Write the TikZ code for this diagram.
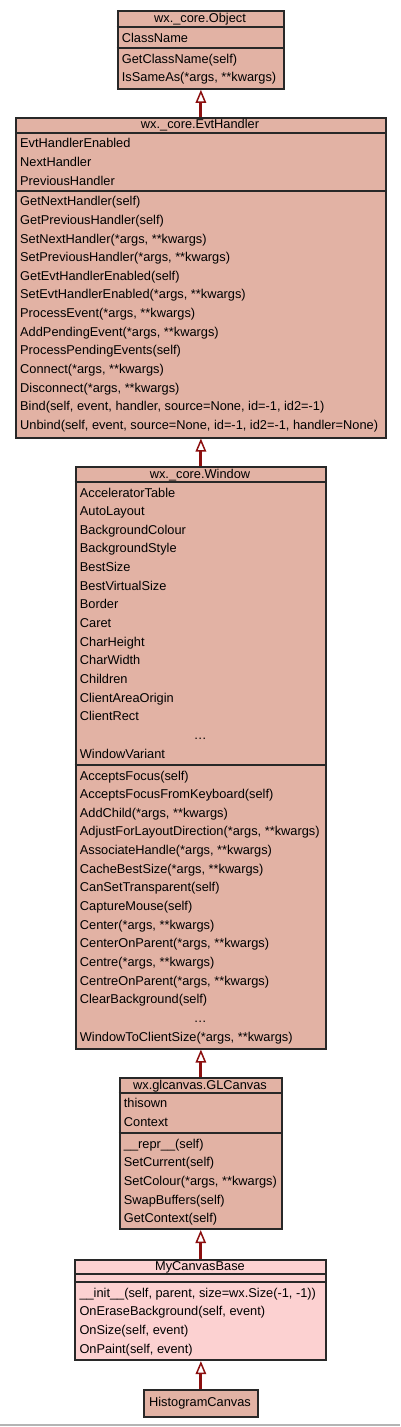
\documentclass[tikz,border=0pt]{standalone}
\usepackage{fontspec}
\setmainfont{Liberation Sans}
\usetikzlibrary{arrows.meta}
\definecolor{salmonfill}{RGB}{226,178,164}
\definecolor{pinkfill}{RGB}{252,209,209}
\definecolor{boxline}{RGB}{40,40,40}
\definecolor{arrowred}{RGB}{140,16,16}
\definecolor{framegray}{RGB}{180,180,180}
\newcommand\umlfont{\fontsize{12.8bp}{15bp}\selectfont}
\newcommand\mrows[4]{%
  \foreach \rowtext [count=\i] in {#4} {%
    \node[txt] (#1\i) at ({#2+5},{#3+1.5+18.65*(\i-0.5)+4.2}) {\rowtext};
  }%
}
\tikzset{
  classbox/.style={draw=boxline, line width=1.8bp, fill=salmonfill, anchor=north west, inner sep=0},
  sepline/.style={draw=boxline, line width=1.8bp},
  txt/.style={anchor=base west, inner sep=0, font=\umlfont, text=black},
  ttl/.style={anchor=base, inner sep=0, font=\umlfont, text=black},
  inh/.style={draw=arrowred, line width=3bp,
    -{Triangle[length=13bp, width=10.5bp, fill=white, line width=1.5bp]}},
}
\begin{document}
\begin{tikzpicture}[x=1bp, y=-1bp]
\useasboundingbox (0,0) rectangle (400,1427);
\fill[white] (0,0) rectangle (400,1427);

% ---------- wx._core.Object
\node[classbox, minimum width=166bp, minimum height=77.5bp] (obj) at (116.7,10.5) {};
\draw[sepline] (obj.west |- 0,27) -- (obj.east |- 0,27);
\draw[sepline] (obj.west |- 0,48.3) -- (obj.east |- 0,48.3);
\node[ttl] (objt) at (200,22.8) {wx.\_core.Object};
\mrows{obja}{116.7}{27}{ClassName}
\mrows{objm}{116.7}{48.3}{{GetClassName(self)},{IsSameAs(*args, **kwargs)}}

% ---------- wx._core.EvtHandler
\node[classbox, minimum width=370bp, minimum height=319.7bp] (evt) at (15,117) {};
\draw[sepline] (evt.west |- 0,132.7) -- (evt.east |- 0,132.7);
\draw[sepline] (evt.west |- 0,190.7) -- (evt.east |- 0,190.7);
\node[ttl] (evtt) at (200,128.9) {wx.\_core.EvtHandler};
\mrows{evta}{15}{132.7}{EvtHandlerEnabled,NextHandler,PreviousHandler}
\mrows{evtm}{15}{190.7}{{GetNextHandler(self)},{GetPreviousHandler(self)},{SetNextHandler(*args, **kwargs)},{SetPreviousHandler(*args, **kwargs)},{GetEvtHandlerEnabled(self)},{SetEvtHandlerEnabled(*args, **kwargs)},{ProcessEvent(*args, **kwargs)},{AddPendingEvent(*args, **kwargs)},{ProcessPendingEvents(self)},{Connect(*args, **kwargs)},{Disconnect(*args, **kwargs)},{Bind(self, event, handler, source=None, id=-1, id2=-1)},{Unbind(self, event, source=None, id=-1, id2=-1, handler=None)}}

% ---------- wx._core.Window
\node[classbox, minimum width=250.6bp, minimum height=581.7bp] (win) at (74.7,466) {};
\draw[sepline] (win.west |- 0,482) -- (win.east |- 0,482);
\draw[sepline] (win.west |- 0,765) -- (win.east |- 0,765);
\node[ttl] (wint) at (200,478) {wx.\_core.Window};
\mrows{wina}{74.7}{482}{AcceleratorTable,AutoLayout,BackgroundColour,BackgroundStyle,BestSize,BestVirtualSize,Border,Caret,CharHeight,CharWidth,Children,ClientAreaOrigin,ClientRect,{\makebox[240.6bp]{…}},WindowVariant}
\mrows{winm}{74.7}{765}{{AcceptsFocus(self)},{AcceptsFocusFromKeyboard(self)},{AddChild(*args, **kwargs)},{AdjustForLayoutDirection(*args, **kwargs)},{AssociateHandle(*args, **kwargs)},{CacheBestSize(*args, **kwargs)},{CanSetTransparent(self)},{CaptureMouse(self)},{Center(*args, **kwargs)},{CenterOnParent(*args, **kwargs)},{Centre(*args, **kwargs)},{CentreOnParent(*args, **kwargs)},{ClearBackground(self)},{\makebox[240.6bp]{…}},{WindowToClientSize(*args, **kwargs)}}

% ---------- wx.glcanvas.GLCanvas
\node[classbox, minimum width=162.6bp, minimum height=151bp] (glc) at (118.7,1077.3) {};
\draw[sepline] (glc.west |- 0,1092.7) -- (glc.east |- 0,1092.7);
\draw[sepline] (glc.west |- 0,1133.3) -- (glc.east |- 0,1133.3);
\node[ttl] (glct) at (200,1089) {wx.glcanvas.GLCanvas};
\mrows{glca}{118.7}{1092.7}{thisown,Context}
\mrows{glcm}{118.7}{1133.3}{{\_\_repr\_\_(self)},{SetCurrent(self)},{SetColour(*args, **kwargs)},{SwapBuffers(self)},{GetContext(self)}}

% ---------- MyCanvasBase
\node[classbox, fill=pinkfill, minimum width=251bp, minimum height=100.3bp] (mcb) at (74.3,1259) {};
\draw[sepline] (mcb.west |- 0,1274) -- (mcb.east |- 0,1274);
\draw[sepline] (mcb.west |- 0,1282.3) -- (mcb.east |- 0,1282.3);
\node[ttl] (mcbt) at (200,1270.5) {MyCanvasBase};
\mrows{mcbm}{74.3}{1282.3}{{\_\_init\_\_(self, parent, size=wx.Size(-1, -1))},{OnEraseBackground(self, event)},{OnSize(self, event)},{OnPaint(self, event)}}

% ---------- HistogramCanvas
\node[classbox, minimum width=114.6bp, minimum height=26.7bp] (hist) at (142.7,1389.3) {};
\node[ttl] (histt) at (200,1406.7) {HistogramCanvas};

% ---------- inheritance arrows
\draw[inh] (evt.north) -- (evt.north |- obj.south);
\draw[inh] (win.north) -- (win.north |- evt.south);
\draw[inh] (glc.north) -- (glc.north |- win.south);
\draw[inh] (mcb.north) -- (mcb.north |- glc.south);
\draw[inh] (hist.north) -- (hist.north |- mcb.south);

% ---------- bottom frame line
\draw[framegray, line width=1.5bp] (0,1425) -- (400,1425);
\end{tikzpicture}
\end{document}
